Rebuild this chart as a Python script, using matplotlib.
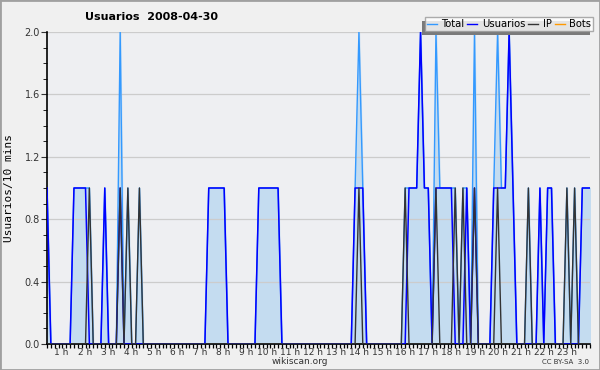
import matplotlib
matplotlib.use("Agg")
import matplotlib.pyplot as plt
import numpy as np
from matplotlib.patches import Rectangle
from matplotlib.lines import Line2D

# 10-minute slots, 142 points
n_slots = 142
usuarios_nonzero = {0: 1, 7: 1, 8: 1, 9: 1, 10: 1, 15: 1, 19: 1,
                    42: 1, 43: 1, 44: 1, 45: 1, 46: 1,
                    55: 1, 56: 1, 57: 1, 58: 1, 59: 1, 60: 1,
                    80: 1, 81: 1, 82: 1,
                    94: 1, 95: 1, 96: 1, 97: 2, 98: 1, 99: 1,
                    101: 1, 102: 1, 103: 1, 104: 1, 105: 1,
                    109: 1, 111: 1,
                    116: 1, 117: 1, 118: 1, 119: 1, 120: 2, 121: 1,
                    128: 1, 130: 1, 131: 1,
                    139: 1, 140: 1, 141: 1}
ip_nonzero = {11: 1, 19: 1, 21: 1, 24: 1, 81: 1, 93: 1, 101: 1,
              106: 1, 108: 1, 111: 1, 117: 1, 125: 1, 135: 1, 137: 1}
hour_labels = [f"{h} h" for h in range(1, 24)]

usuarios = np.zeros(n_slots)
for k, v in usuarios_nonzero.items():
    usuarios[k] = v
ip = np.zeros(n_slots)
for k, v in ip_nonzero.items():
    ip[k] = v
bots = np.zeros(n_slots)
total = usuarios + ip
x = np.arange(n_slots) / 6.0

fig = plt.figure(figsize=(6, 3.7), dpi=100, facecolor="#f0f0f0")
fig.patches.append(Rectangle((0, 0), 1, 1, transform=fig.transFigure, fill=False,
                             edgecolor="#a0a0a0", linewidth=2))
ax = fig.add_axes([47 / 600, 26 / 370, 543 / 600, 312 / 370])
ax.set_facecolor("#eeeff2")

ax.fill_between(x, total, color="#c4dcf0", zorder=1)
ax.plot(x, total, color="#3399ff", lw=1, zorder=2)
ax.plot(x, usuarios, color="#0000ff", lw=1.1, zorder=3)
ax.plot(x, ip, color="#333333", lw=1, zorder=4)
ax.plot(x, bots, color="#ff9900", lw=1, zorder=1.5)

ax.set_xlim(0, (n_slots - 1) / 6.0)
ax.set_ylim(0, 2.0)
for s in ["top", "right"]:
    ax.spines[s].set_visible(False)
ax.spines["left"].set_linewidth(1.2)
ax.spines["bottom"].set_linewidth(1.2)

ax.set_yticks(np.arange(0, 2.01, 0.4))
ax.set_yticklabels([f"{v:.1f}" for v in np.arange(0, 2.01, 0.4)])
ax.set_yticks(np.arange(0, 2.01, 0.1), minor=True)
ax.yaxis.grid(True, which="major", color="#cccccc", lw=0.9)
ax.tick_params(axis="y", which="major", length=4, labelsize=7, colors="#333333", pad=1)
ax.tick_params(axis="y", which="minor", length=3)

ax.set_xticks(x, minor=True)
ax.set_xticks([])
ax.tick_params(axis="x", which="minor", length=3, width=0.9)
for h, lab in zip(range(1, 24), hour_labels):
    ax.text(h - 0.06, -0.012, lab, transform=ax.get_xaxis_transform(),
            ha="right", va="top", fontsize=6.5, color="#333333")

ax.set_ylabel("Usuarios/10 mins", family="DejaVu Sans Mono", fontsize=8, labelpad=8)

fig.text(85 / 600, 1 - 17 / 370, "Usuarios  2008-04-30", fontsize=8,
         fontweight="bold", va="center", ha="left")
fig.text(0.5, 1 - 361 / 370, "wikiscan.org", fontsize=6.5, ha="center", va="center",
         color="#333333")
fig.text(589 / 600, 1 - 362 / 370, "CC BY-SA  3.0", fontsize=5, ha="right",
         va="center", color="#333333")

handles = [Line2D([], [], color="#3399ff", lw=1),
           Line2D([], [], color="#0000ff", lw=1),
           Line2D([], [], color="#333333", lw=1),
           Line2D([], [], color="#ff9900", lw=1)]
leg = fig.legend(handles, ["Total", "Usuarios", "IP", "Bots"], ncol=4,
                 loc="upper right", bbox_to_anchor=(593 / 600, 1 - 17 / 370),
                 fontsize=7.2, frameon=True, fancybox=False, shadow=False,
                 handlelength=1.0, handletextpad=0.45, columnspacing=0.3,
                 borderpad=0.2, borderaxespad=0)
leg.get_frame().set_edgecolor("#999999")
leg.get_frame().set_facecolor("white")
leg.set_zorder(10)

# shadow offset to lower-left, as in the reference
fig.canvas.draw()
bb = leg.get_window_extent().transformed(fig.transFigure.inverted())
dx, dy = 3 / 600, 4 / 370
fig.patches.append(Rectangle((bb.x0 - dx, bb.y0 - dy), bb.width, bb.height,
                             transform=fig.transFigure, facecolor="#7a7a7a",
                             edgecolor="none", zorder=9))

fig.savefig("out.png", dpi=100, facecolor=fig.get_facecolor())
